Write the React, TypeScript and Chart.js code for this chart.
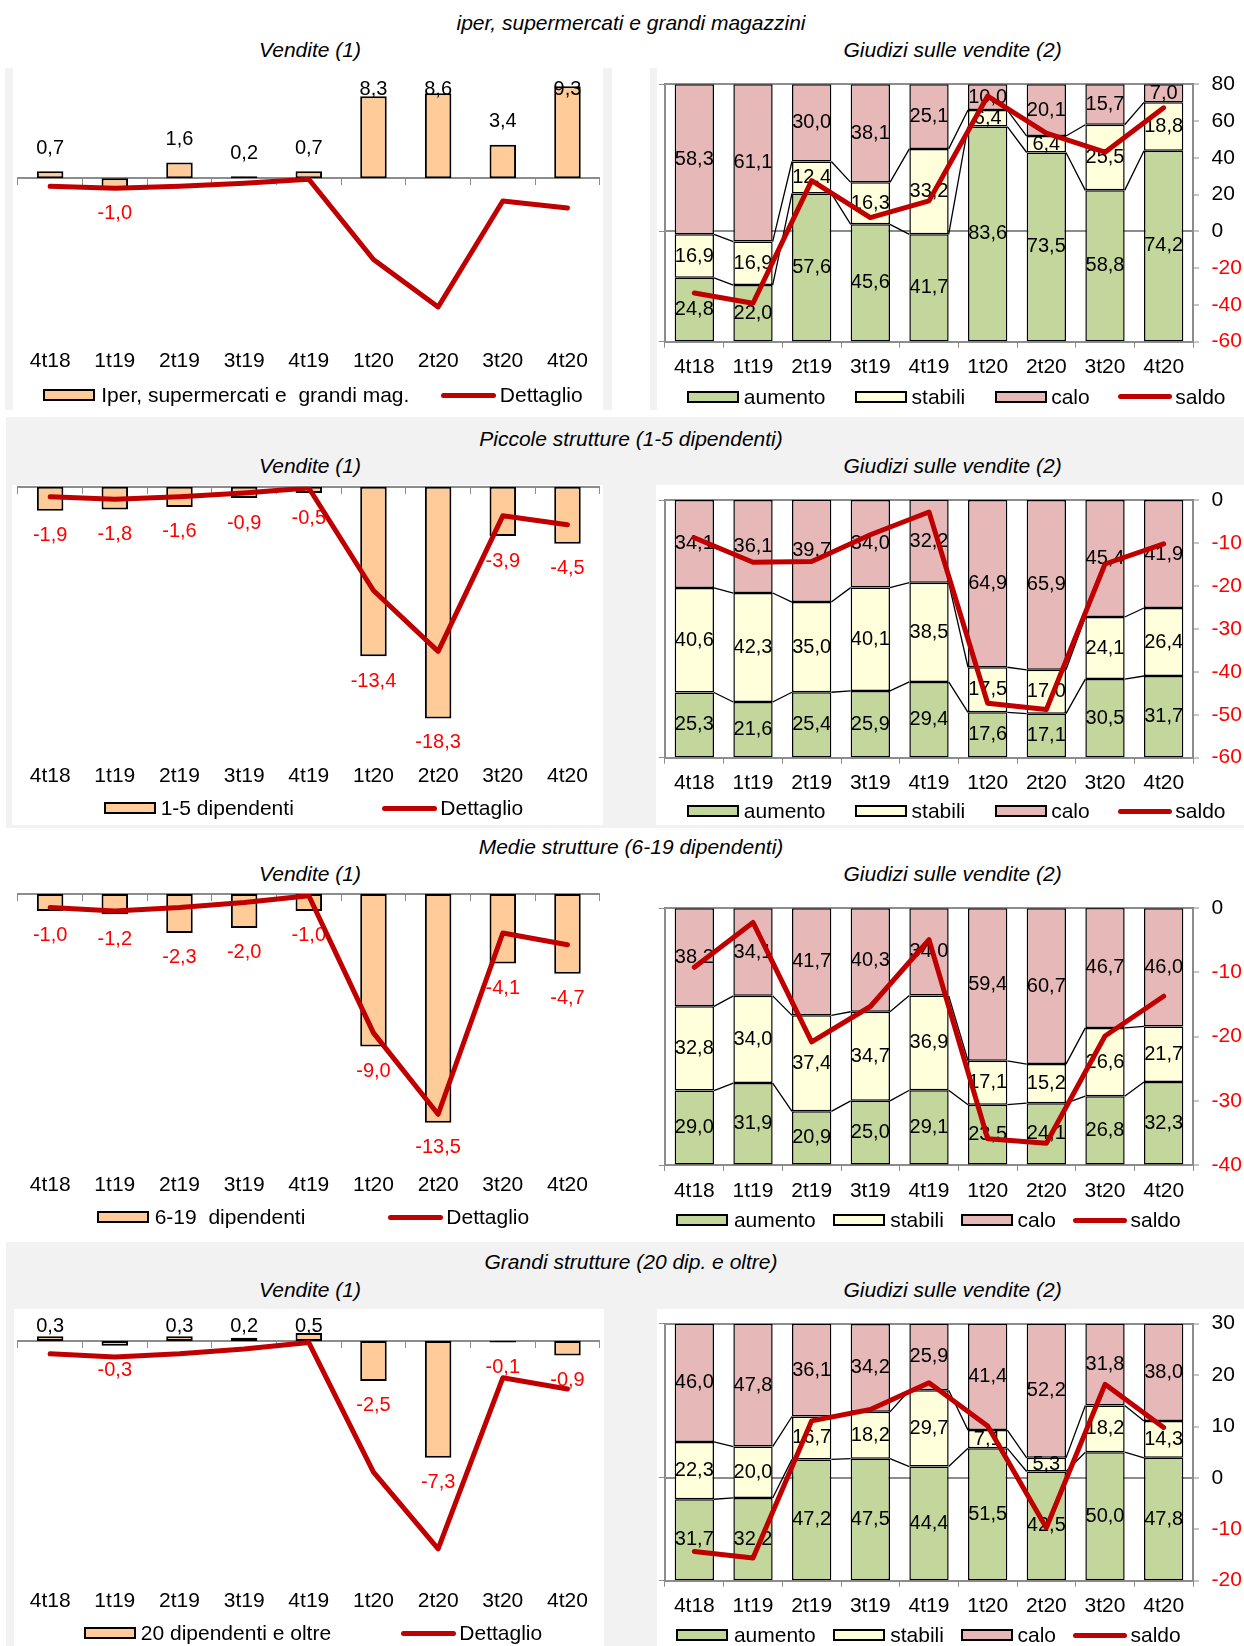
import React, { useEffect, useRef } from 'react';
import { Chart, registerables } from 'chart.js';
Chart.register(...registerables);

// ---------------- DATA ----------------
const categories = ['4t18', '1t19', '2t19', '3t19', '4t19', '1t20', '2t20', '3t20', '4t20'];

const dettaglio = [-0.8, -1.0, -0.8, -0.5, -0.1, -8.2, -13.0, -2.3, -3.0];

const iperVendite = [0.7, -1.0, 1.6, 0.2, 0.7, 8.3, 8.6, 3.4, 9.3];
const piccoleVendite = [-1.9, -1.8, -1.6, -0.9, -0.5, -13.4, -18.3, -3.9, -4.5];
const medieVendite = [-1.0, -1.2, -2.3, -2.0, -1.0, -9.0, -13.5, -4.1, -4.7];
const grandiVendite = [0.3, -0.3, 0.3, 0.2, 0.5, -2.5, -7.3, -0.1, -0.9];

const iperAumento = [24.8, 22.0, 57.6, 45.6, 41.7, 83.6, 73.5, 58.8, 74.2];
const iperStabili = [16.9, 16.9, 12.4, 16.3, 33.2, 6.4, 6.4, 25.5, 18.8];
const iperCalo = [58.3, 61.1, 30.0, 38.1, 25.1, 10.0, 20.1, 15.7, 7.0];
const iperSaldo = [-33.5, -39.1, 27.6, 7.5, 16.6, 73.6, 53.4, 43.1, 67.2];

const piccoleAumento = [25.3, 21.6, 25.4, 25.9, 29.4, 17.6, 17.1, 30.5, 31.7];
const piccoleStabili = [40.6, 42.3, 35.0, 40.1, 38.5, 17.5, 17.0, 24.1, 26.4];
const piccoleCalo = [34.1, 36.1, 39.7, 34.0, 32.2, 64.9, 65.9, 45.4, 41.9];
const piccoleSaldo = [-8.8, -14.5, -14.3, -8.1, -2.8, -47.3, -48.8, -14.9, -10.2];

const medieAumento = [29.0, 31.9, 20.9, 25.0, 29.1, 23.5, 24.1, 26.8, 32.3];
const medieStabili = [32.8, 34.0, 37.4, 34.7, 36.9, 17.1, 15.2, 26.6, 21.7];
const medieCalo = [38.2, 34.1, 41.7, 40.3, 34.0, 59.4, 60.7, 46.7, 46.0];
const medieSaldo = [-9.2, -2.2, -20.8, -15.3, -4.9, -35.9, -36.6, -19.9, -13.7];

const grandiAumento = [31.7, 32.2, 47.2, 47.5, 44.4, 51.5, 42.5, 50.0, 47.8];
const grandiStabili = [22.3, 20.0, 16.7, 18.2, 29.7, 7.1, 5.3, 18.2, 14.3];
const grandiCalo = [46.0, 47.8, 36.1, 34.2, 25.9, 41.4, 52.2, 31.8, 38.0];
const grandiSaldo = [-14.3, -15.6, 11.1, 13.3, 18.5, 10.1, -9.7, 18.2, 9.8];

const sectionTitles = [
  'iper, supermercati e grandi magazzini',
  'Piccole strutture (1-5 dipendenti)',
  'Medie strutture (6-19 dipendenti)',
  'Grandi strutture (20 dip. e oltre)',
];
const leftTitle = 'Vendite (1)';
const rightTitle = 'Giudizi sulle vendite (2)';
const leftSeriesLabels = ['Iper, supermercati e  grandi mag.', '1-5 dipendenti', '6-19  dipendenti', '20 dipendenti e oltre'];
const lineLabel = 'Dettaglio';
const stackLabels = ['aumento', 'stabili', 'calo'];
const saldoLabel = 'saldo';

const leftValues = [iperVendite, piccoleVendite, medieVendite, grandiVendite];
const rightAumento = [iperAumento, piccoleAumento, medieAumento, grandiAumento];
const rightStabili = [iperStabili, piccoleStabili, medieStabili, grandiStabili];
const rightCalo = [iperCalo, piccoleCalo, medieCalo, grandiCalo];
const rightSaldo = [iperSaldo, piccoleSaldo, medieSaldo, grandiSaldo];

// axis ranges
const leftMin = [-16, -21, -15.7, -14.7];
const leftMax = [10, 0, 0, 1.52];
const rightMin = [-60, -60, -40, -20];
const rightMax = [80, 0, 0, 30];
const rightStep = [20, 10, 10, 10];

// ---------------- STYLE / LAYOUT ----------------
const FONT = "'Liberation Sans', Arial, Helvetica, sans-serif";
const GRAY_AXIS = '#8c8c8c';
const BG_GRAY = '#f2f2f2';
const ORANGE = '#FFCC99';
const GREEN = '#C3D69B';
const YELLOW = '#FFFFDB';
const PINK = '#E6B9B8';
const RED_LINE = '#C00000';
const RED_TEXT = '#FF0000';

const titleY = [23.3, 439.3, 846.7, 1262.3];
const subTitleY = [50, 466, 874, 1290];

const leftLayout = [
  { plotTop: 79.3, plotBottom: 336.7, labelY: 361.7 },
  { plotTop: 486.7, plotBottom: 752.6, labelY: 776.7 },
  { plotTop: 894, plotBottom: 1160, labelY: 1185 },
  { plotTop: 1316.7, plotBottom: 1576, labelY: 1601 },
];
const rightLayout = [
  { plotTop: 84.3, plotBottom: 341.7, labelY: 367.5 },
  { plotTop: 500, plotBottom: 757.7, labelY: 783.5 },
  { plotTop: 908.3, plotBottom: 1165, labelY: 1191.5 },
  { plotTop: 1323.7, plotBottom: 1580.7, labelY: 1606.5 },
];

const leftLegend = [
  { y: 395, boxX: 42.8, textX: 101.2, lineX: 441.1, detX: 499.8 },
  { y: 808.3, boxX: 103.9, textX: 160.7, lineX: 381.6, detX: 440.3 },
  { y: 1217.3, boxX: 97.2, textX: 154.7, lineX: 387.9, detX: 446.3 },
  { y: 1633.3, boxX: 84.1, textX: 140.8, lineX: 401.4, detX: 459.3 },
];
const legendA = [686.7, 743.8, 855.2, 911.6, 994.9, 1051.2, 1117.8, 1175.3];
const legendB = [676.3, 733.9, 833.4, 890.2, 961.2, 1017.5, 1073.4, 1130.5];
const rightLegend = [
  { y: 396.7, xs: legendA },
  { y: 811, xs: legendA },
  { y: 1220, xs: legendB },
  { y: 1635, xs: legendB },
];

const bgRects = [
  { x: 5, y: 68, w: 607, h: 342, c: BG_GRAY },
  { x: 13, y: 68, w: 590, h: 342, c: '#fff' },
  { x: 650, y: 68, w: 594, h: 342, c: BG_GRAY },
  { x: 657, y: 68, w: 587, h: 342, c: '#fff' },
  { x: 6, y: 417, w: 1238, h: 411, c: BG_GRAY },
  { x: 12, y: 485, w: 591, h: 340, c: '#fff' },
  { x: 656, y: 485, w: 588, h: 340, c: '#fff' },
  { x: 6, y: 1242, w: 1238, h: 404, c: BG_GRAY },
  { x: 14, y: 1309, w: 590, h: 337, c: '#fff' },
  { x: 657, y: 1309, w: 587, h: 337, c: '#fff' },
];

const fmt = (v: number) => v.toFixed(1).replace('.', ',');

// ---------------- PLUGINS ----------------
const leftLabelPlugin = {
  id: 'leftLabels',
  afterDatasetDraw(chart: any, args: any) {
    if (args.index !== 1) return;
    const meta = chart.getDatasetMeta(1);
    const data = chart.data.datasets[1].data as number[];
    const ctx = chart.ctx;
    const area = chart.chartArea;
    ctx.save();
    ctx.font = `20px ${FONT}`;
    ctx.textAlign = 'center';
    ctx.textBaseline = 'middle';
    meta.data.forEach((el: any, i: number) => {
      const v = data[i];
      let y: number;
      if (v >= 0) {
        y = Math.max(el.y - 23, area.top + 10);
        ctx.fillStyle = '#000';
      } else {
        y = Math.min(el.y + 25, area.bottom - 10);
        ctx.fillStyle = RED_TEXT;
      }
      ctx.fillText(fmt(v), el.x, y);
    });
    ctx.restore();
  },
};

const stackPlugin = {
  id: 'stackLabels',
  afterDatasetDraw(chart: any, args: any) {
    if (args.index !== 1) return;
    const ctx = chart.ctx;
    // series lines
    ctx.save();
    ctx.strokeStyle = '#000';
    ctx.lineWidth = 1.3;
    [1, 2].forEach((di) => {
      const meta = chart.getDatasetMeta(di);
      ctx.beginPath();
      for (let i = 0; i < meta.data.length - 1; i++) {
        const a = meta.data[i];
        const b = meta.data[i + 1];
        ctx.moveTo(a.x + a.width / 2, a.y);
        ctx.lineTo(b.x - b.width / 2, b.y);
      }
      ctx.stroke();
    });
    // labels
    ctx.font = `20px ${FONT}`;
    ctx.textAlign = 'center';
    ctx.textBaseline = 'middle';
    ctx.fillStyle = '#000';
    [1, 2, 3].forEach((di) => {
      const meta = chart.getDatasetMeta(di);
      const data = chart.data.datasets[di].data as number[];
      meta.data.forEach((el: any, i: number) => {
        ctx.fillText(fmt(data[i]), el.x, (el.y + el.base) / 2);
      });
    });
    ctx.restore();
  },
};

// ---------------- CHARTS ----------------
function LeftChart({ idx }: { idx: number }) {
  const ref = useRef<HTMLCanvasElement>(null);
  const L = leftLayout[idx];
  const W = 622;
  const canvasTop = Math.floor(L.plotTop - 14);
  const padTop = L.plotTop - canvasTop;
  const xH = 50;
  const H = Math.ceil(L.plotBottom - canvasTop + xH);
  const padBottom = H - xH - (L.plotBottom - canvasTop);

  useEffect(() => {
    const chart = new Chart(ref.current as HTMLCanvasElement, {
      type: 'bar',
      data: {
        labels: categories,
        datasets: [
          {
            type: 'line',
            label: lineLabel,
            data: dettaglio,
            borderColor: RED_LINE,
            backgroundColor: RED_LINE,
            borderWidth: 5,
            pointRadius: 0,
            tension: 0,
            borderJoinStyle: 'round',
            borderCapStyle: 'round',
            xAxisID: 'x',
            yAxisID: 'y',
          } as any,
          {
            type: 'bar',
            label: leftSeriesLabels[idx],
            data: leftValues[idx],
            backgroundColor: ORANGE,
            borderColor: '#000',
            borderWidth: 2,
            borderSkipped: false,
            barPercentage: 0.41,
            categoryPercentage: 1,
            xAxisID: 'x',
            yAxisID: 'y',
          } as any,
        ],
      },
      options: {
        animation: false,
        responsive: false,
        maintainAspectRatio: false,
        devicePixelRatio: 1,
        layout: { padding: { left: 17.8, right: 22.2, top: padTop, bottom: padBottom } },
        plugins: { legend: { display: false }, tooltip: { enabled: false }, title: { display: false } },
        scales: {
          x: {
            type: 'category',
            position: 'bottom',
            offset: true,
            grid: { display: false, drawTicks: false },
            border: { display: false },
            ticks: {
              color: '#000',
              font: { family: FONT, size: 21 },
              padding: L.labelY - L.plotBottom - 12.6,
              maxRotation: 0,
              autoSkip: false,
            },
            afterFit: (s: any) => {
              s.height = xH;
              s.paddingLeft = 0;
              s.paddingRight = 0;
            },
          },
          x2: {
            type: 'category',
            axis: 'x',
            position: { y: 0 },
            offset: true,
            grid: { offset: true, drawOnChartArea: false, drawTicks: true, tickLength: 6, color: GRAY_AXIS, lineWidth: 1 },
            border: { display: true, color: GRAY_AXIS, width: 2 },
            ticks: { display: false },
          },
          y: { display: false, min: leftMin[idx], max: leftMax[idx] },
        } as any,
      },
      plugins: [leftLabelPlugin],
    });
    return () => chart.destroy();
  }, []);

  return (
    <canvas
      ref={ref}
      width={W}
      height={H}
      style={{ position: 'absolute', left: 0, top: canvasTop, width: W, height: H }}
    />
  );
}

function RightChart({ idx }: { idx: number }) {
  const ref = useRef<HTMLCanvasElement>(null);
  const L = rightLayout[idx];
  const W = 622;
  const left = 622;
  const canvasTop = Math.floor(L.plotTop - 14);
  const padTop = L.plotTop - canvasTop;
  const xH = 50;
  const H = Math.ceil(L.plotBottom - canvasTop + xH);
  const padBottom = H - xH - (L.plotBottom - canvasTop);
  const min = rightMin[idx];
  const max = rightMax[idx];
  const zeroPct = ((0 - min) / (max - min)) * 100;

  useEffect(() => {
    const barCommon = {
      type: 'bar',
      borderColor: '#000',
      borderWidth: 1.5,
      borderSkipped: false,
      barPercentage: 0.67,
      categoryPercentage: 1,
      stack: 's',
      xAxisID: 'x',
      yAxisID: 'y',
    };
    const chart = new Chart(ref.current as HTMLCanvasElement, {
      type: 'bar',
      data: {
        labels: categories,
        datasets: [
          {
            type: 'line',
            label: saldoLabel,
            data: rightSaldo[idx],
            borderColor: RED_LINE,
            backgroundColor: RED_LINE,
            borderWidth: 5,
            pointRadius: 0,
            tension: 0,
            borderJoinStyle: 'round',
            borderCapStyle: 'round',
            xAxisID: 'x',
            yAxisID: 'y2',
          } as any,
          { ...barCommon, label: stackLabels[0], data: rightAumento[idx], backgroundColor: GREEN } as any,
          { ...barCommon, label: stackLabels[1], data: rightStabili[idx], backgroundColor: YELLOW } as any,
          { ...barCommon, label: stackLabels[2], data: rightCalo[idx], backgroundColor: PINK } as any,
        ],
      },
      options: {
        animation: false,
        responsive: false,
        maintainAspectRatio: false,
        devicePixelRatio: 1,
        layout: { padding: { left: 37, right: 0, top: padTop, bottom: padBottom } },
        plugins: { legend: { display: false }, tooltip: { enabled: false }, title: { display: false } },
        scales: {
          x: {
            type: 'category',
            stacked: true,
            offset: true,
            grid: { offset: true, drawOnChartArea: false, drawTicks: true, tickLength: 6, color: GRAY_AXIS, lineWidth: 1 },
            border: { display: true, color: GRAY_AXIS, width: 2 },
            ticks: {
              color: '#000',
              font: { family: FONT, size: 21 },
              padding: L.labelY - L.plotBottom - 6 - 12.6,
              maxRotation: 0,
              autoSkip: false,
            },
            afterFit: (s: any) => {
              s.height = xH;
              s.paddingLeft = 0;
              s.paddingRight = 0;
            },
          },
          y: {
            position: 'left',
            stacked: true,
            min: 0,
            max: 100,
            ticks: { display: false },
            grid: { drawOnChartArea: false, drawTicks: true, tickLength: 6, color: GRAY_AXIS, lineWidth: 1 },
            border: { display: true, color: GRAY_AXIS, width: 2 },
            afterBuildTicks: (s: any) => {
              s.ticks = [{ value: 0 }, { value: zeroPct }, { value: 100 }];
            },
            afterFit: (s: any) => {
              s.width = 6;
              s.paddingTop = 0;
              s.paddingBottom = 0;
            },
          },
          y2: {
            position: 'right',
            min,
            max,
            ticks: {
              stepSize: rightStep[idx],
              font: { family: FONT, size: 21 },
              color: (c: any) => (c.tick && c.tick.value < 0 ? RED_TEXT : '#000'),
              padding: 12.6,
            },
            grid: {
              drawOnChartArea: true,
              drawTicks: true,
              tickLength: 6,
              lineWidth: 2,
              tickWidth: 1,
              tickColor: GRAY_AXIS,
              color: (c: any) =>
                c.tick && (c.tick.value === 0 || c.tick.value === max) ? GRAY_AXIS : 'rgba(0,0,0,0)',
            },
            border: { display: true, color: GRAY_AXIS, width: 2 },
            afterFit: (s: any) => {
              s.width = 51;
              s.paddingTop = 0;
              s.paddingBottom = 0;
            },
          },
        } as any,
      },
      plugins: [stackPlugin],
    });
    return () => chart.destroy();
  }, []);

  return (
    <canvas
      ref={ref}
      width={W}
      height={H}
      style={{ position: 'absolute', left, top: canvasTop, width: W, height: H }}
    />
  );
}

// ---------------- HTML PIECES ----------------
const textStyle = (x: number, y: number, extra: any = {}) => ({
  position: 'absolute' as const,
  left: x,
  top: y - 12,
  height: 24,
  lineHeight: '24px',
  fontFamily: FONT,
  fontSize: 21,
  color: '#000',
  whiteSpace: 'pre' as const,
  ...extra,
});

function Centered({ cx, y, text }: { cx: number; y: number; text: string }) {
  return <div style={textStyle(cx - 300, y, { width: 600, textAlign: 'center', fontStyle: 'italic' })}>{text}</div>;
}

function Box({ x, y, color }: { x: number; y: number; color: string }) {
  return (
    <div
      style={{
        position: 'absolute',
        left: x,
        top: y - 6,
        width: 52,
        height: 12,
        boxSizing: 'border-box',
        border: '2.5px solid #000',
        background: color,
      }}
    />
  );
}

function LineKey({ x, y, w }: { x: number; y: number; w: number }) {
  return (
    <div
      style={{
        position: 'absolute',
        left: x,
        top: y - 2.5,
        width: w,
        height: 5,
        borderRadius: 3,
        background: RED_LINE,
      }}
    />
  );
}

export default function App() {
  useEffect(() => {
    document.body.style.margin = '0';
  }, []);
  return (
    <div style={{ position: 'absolute', left: 0, top: 0, width: 1244, height: 1646, background: '#fff', overflow: 'hidden' }}>
      {bgRects.map((r, i) => (
        <div key={'bg' + i} style={{ position: 'absolute', left: r.x, top: r.y, width: r.w, height: r.h, background: r.c }} />
      ))}
      {sectionTitles.map((t, i) => (
        <Centered key={'t' + i} cx={631} y={titleY[i]} text={t} />
      ))}
      {subTitleY.map((y, i) => (
        <React.Fragment key={'st' + i}>
          <Centered cx={310} y={y} text={leftTitle} />
          <Centered cx={952.6} y={y} text={rightTitle} />
        </React.Fragment>
      ))}
      {[0, 1, 2, 3].map((i) => (
        <React.Fragment key={'c' + i}>
          <LeftChart idx={i} />
          <RightChart idx={i} />
        </React.Fragment>
      ))}
      {leftLegend.map((g, i) => (
        <React.Fragment key={'ll' + i}>
          <Box x={g.boxX} y={g.y} color={ORANGE} />
          <div style={textStyle(g.textX, g.y)}>{leftSeriesLabels[i]}</div>
          <LineKey x={g.lineX} y={g.y} w={55} />
          <div style={textStyle(g.detX, g.y)}>{lineLabel}</div>
        </React.Fragment>
      ))}
      {rightLegend.map((g, i) => (
        <React.Fragment key={'rl' + i}>
          <Box x={g.xs[0]} y={g.y} color={GREEN} />
          <div style={textStyle(g.xs[1], g.y)}>{stackLabels[0]}</div>
          <Box x={g.xs[2]} y={g.y} color={YELLOW} />
          <div style={textStyle(g.xs[3], g.y)}>{stackLabels[1]}</div>
          <Box x={g.xs[4]} y={g.y} color={PINK} />
          <div style={textStyle(g.xs[5], g.y)}>{stackLabels[2]}</div>
          <LineKey x={g.xs[6]} y={g.y} w={54} />
          <div style={textStyle(g.xs[7], g.y)}>{saldoLabel}</div>
        </React.Fragment>
      ))}
    </div>
  );
}
